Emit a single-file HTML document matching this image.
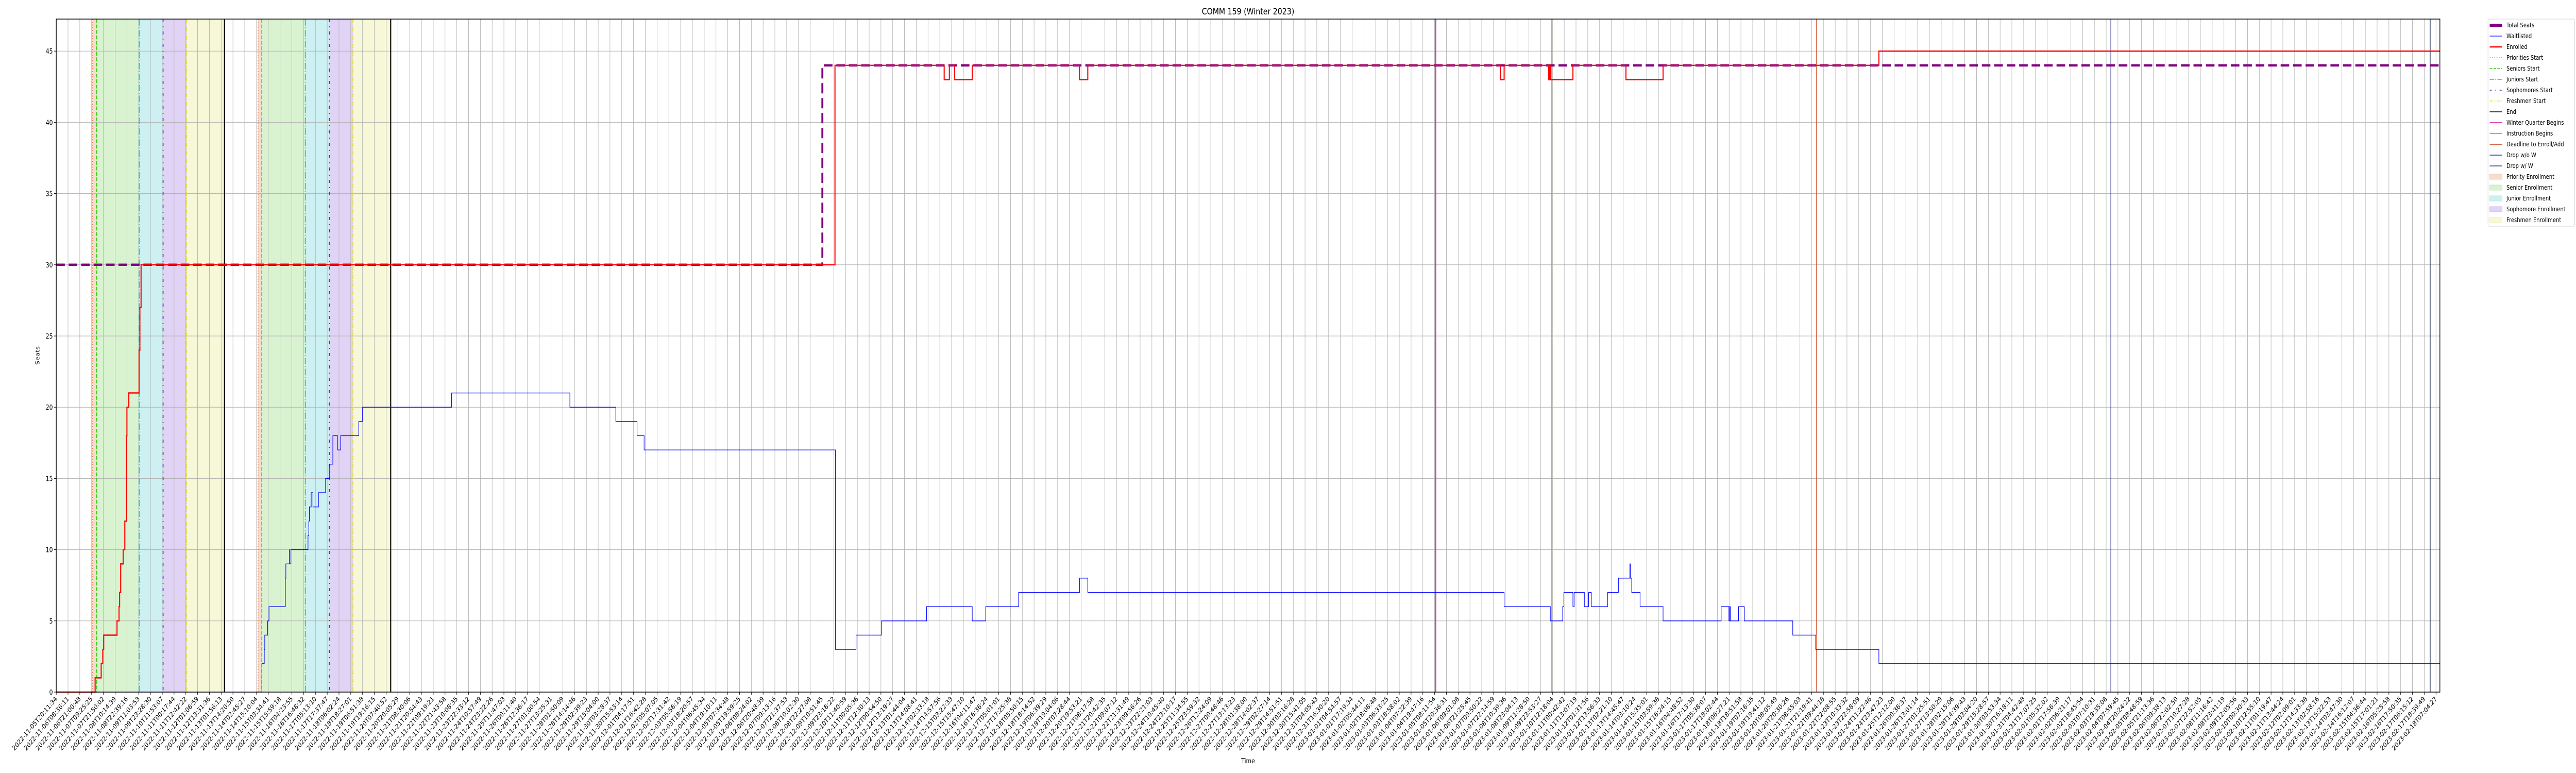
<!DOCTYPE html>
<html><head><meta charset="utf-8"><title>COMM 159 (Winter 2023)</title>
<style>
html,body{margin:0;padding:0;background:#fff;width:100%;height:100%;overflow:hidden;}
svg{display:block;position:absolute;left:0;top:0;width:100vw;height:100vh;font-family:"DejaVu Sans","Liberation Sans",sans-serif;}
</style></head>
<body>
<svg id="chart" viewBox="0 0 6000 1500" preserveAspectRatio="none" xmlns="http://www.w3.org/2000/svg" overflow="hidden"><g id="root"></g></svg>
<script>
// ---- data (x in tick-index units, y in seats) ----
const totalSeatsX = [0, 65.03, 202.33];
const totalSeatsY = [30, 44, 44];
const enrolledX = [0,3.30,3.815,3.95,4.03,5.16,5.33,5.38,5.47,5.68,5.82,5.95,6.0,6.16,7.03,7.1,7.2,66.1,75.37,75.81,76.26,77.75,86.86,87.56,122.58,122.9,126.67,126.75,126.85,128.74,133.24,136.39,154.71,202.33];
const enrolledY = [0,1,2,3,4,5,6,7,9,10,12,18,20,21,24,27,30,44,43,44,43,44,43,44,43,44,43,44,43,44,43,44,45,45];
const waitX = [0,17.46,17.66,17.70,17.94,18.06,19.45,19.49,19.79,19.80,19.92,21.37,21.44,21.49,21.64,21.79,22.26,22.86,23.18,23.48,23.88,24.14,25.68,26.0,33.56,43.6,47.5,49.3,49.9,66.14,67.89,70.05,73.88,77.75,78.9,81.69,86.86,87.56,122.9,126.82,127.87,127.97,128.74,128.84,129.71,130.07,130.3,131.68,132.6,133.57,133.62,133.73,134.44,136.39,141.32,141.98,142.05,142.1,142.8,143.29,147.4,149.35,154.71,202.33];
const waitY = [0,2,3,4,5,6,8,9,10,9,10,11,12,13,14,13,14,15,16,18,17,18,19,20,21,20,19,18,17,3,4,5,6,5,6,7,8,7,6,5,6,7,6,7,6,7,6,7,8,9,8,7,6,5,6,5,6,5,6,5,4,3,2,2];
const prioritiesStart = [3.08, 17.13];
const seniorsStart = [3.43, 17.45];
const juniorsStart = [7.04, 21.14];
const sophomoresStart = [9.07, 23.18];
const freshmenStart = [11.07, 25.18];
const endMarks = [14.28, 28.39];
const winterBegins = [117.1];
const instructionBegins = [126.95];
const deadlineAdd = [149.42];
const dropNoW = [174.4];
const dropW = [201.5];
const yTicks = [0,5,10,15,20,25,30,35,40,45];
const tickCount = 203;
const tickStartLabel = "2022-11-05T20:11:34";
const tickEndLabel = "2023-02-18T07:04:27";

// ---- layout ----
const L = 131, R = 5683, T = 37, B = 1343;
const XMAX = 202.33, YMAX = 47.25;
function xs(v){ return L + v/XMAX*(R-L); }
function ys(v){ return B - v/YMAX*(B-T); }
const NS = "http://www.w3.org/2000/svg";
const svg = document.getElementById('root');
function mk(tag, attrs, parent){
  const e = document.createElementNS(NS, tag);
  for (const k in attrs) e.setAttribute(k, attrs[k]);
  (parent||svg).appendChild(e);
  return e;
}
function pad(n){ return String(n).padStart(2,'0'); }
function fmt(d){ return d.getUTCFullYear()+'-'+pad(d.getUTCMonth()+1)+'-'+pad(d.getUTCDate())+'T'+pad(d.getUTCHours())+':'+pad(d.getUTCMinutes())+':'+pad(d.getUTCSeconds()); }
const t0 = Date.parse(tickStartLabel+'Z'), t1 = Date.parse(tickEndLabel+'Z');
const tickLabels = [];
for (let i=0;i<tickCount;i++) tickLabels.push(fmt(new Date(t0 + (t1-t0)*i/(tickCount-1))));

// spans
const spanDefs = [
  {a:prioritiesStart,b:seniorsStart,fill:'#f6ddd0',name:'priority-enrollment-span'},
  {a:seniorsStart,b:juniorsStart,fill:'#d9f3d1',name:'senior-enrollment-span'},
  {a:juniorsStart,b:sophomoresStart,fill:'#cdf0f2',name:'junior-enrollment-span'},
  {a:sophomoresStart,b:freshmenStart,fill:'#e0d3f5',name:'sophomore-enrollment-span'},
  {a:freshmenStart,b:endMarks,fill:'#f7f8d8',name:'freshmen-enrollment-span'}
];
spanDefs.forEach(s=>{
  s.a.forEach((v,i)=>{
    const r = mk('rect',{x:xs(v),y:T,width:xs(s.b[i])-xs(v),height:B-T,fill:s.fill});
    
    
  });
});

// grid
const grid = mk('g',{stroke:'#b0b0b0','stroke-width':1});


for (let i=0;i<tickCount;i++){ const x=xs(i); mk('line',{x1:x,x2:x,y1:T,y2:B},grid); }
yTicks.forEach(v=>{ const y=ys(v); mk('line',{x1:L,x2:R,y1:y,y2:y},grid); });

// vertical event lines
function vlines(arr, color, width, dash, name){
  arr.forEach(v=>{
    const a = {x1:xs(v),x2:xs(v),y1:T,y2:B,stroke:color,'stroke-width':width};
    if (dash) a['stroke-dasharray']=dash;
    const l = mk('line',a);
    
    
  });
}
vlines(prioritiesStart,'#ee7a3e',2,'2,3.3','priorities-start-line');
vlines(seniorsStart,'#33cc11',2,'7.4,3.2','seniors-start-line');
vlines(juniorsStart,'#00c5d4',2,'12.8,3.2,2,3.2','juniors-start-line');
vlines(sophomoresStart,'#6a1ed1',2,'6,8,2,8','sophomores-start-line');
vlines(freshmenStart,'#e0e030',2,'8,3,2,3','freshmen-start-line');
vlines(endMarks,'#000000',2.5,null,'end-line');
vlines(winterBegins,'#d4149c',2,null,'winter-quarter-begins-line');
vlines(instructionBegins,'#8aa61a',2,null,'instruction-begins-line');
vlines(deadlineAdd,'#cc3a12',1.5,null,'deadline-enroll-add-line');
vlines(dropNoW,'#2b2b8c',1.5,null,'drop-without-w-line');
vlines(dropW,'#2c3e5e',2,null,'drop-with-w-line');

// step series
function stepPath(X,Y){
  let d='M'+xs(X[0])+','+ys(Y[0]);
  for (let i=1;i<X.length;i++){ d+=' H'+xs(X[i])+' V'+ys(Y[i]); }
  return d;
}
const pTotal = mk('path',{d:stepPath(totalSeatsX,totalSeatsY),fill:'none',stroke:'#800080','stroke-width':4.5,'stroke-dasharray':'20,9'});


const pWait = mk('path',{d:stepPath(waitX,waitY),fill:'none',stroke:'#0000ff','stroke-width':1.3});


const pEnr = mk('path',{d:stepPath(enrolledX,enrolledY),fill:'none',stroke:'#ff0000','stroke-width':2.5});



// axes frame
const frame = mk('rect',{x:L,y:T,width:R-L,height:B-T,fill:'none',stroke:'#000','stroke-width':1.5});



// x ticks and labels
const xt = mk('g',{});


for (let i=0;i<tickCount;i++){
  const x=xs(i);
  mk('line',{x1:x,x2:x,y1:B,y2:B+5,stroke:'#000','stroke-width':1},xt);
  const t = mk('text',{x:x+3,y:B+14,'font-size':13,'text-anchor':'end',transform:'rotate(-45 '+(x+3)+' '+(B+14)+')',fill:'#000'},xt);
  t.textContent = tickLabels[i];
  
  
}
// y ticks
const yt = mk('g',{});


yTicks.forEach(v=>{
  const y=ys(v);
  mk('line',{x1:L-5,x2:L,y1:y,y2:y,stroke:'#000','stroke-width':1},yt);
  const t = mk('text',{x:L-8,y:y+5,'font-size':13,'text-anchor':'end',fill:'#000'},yt);
  t.textContent = v;
  
  
});

// titles
const title = mk('text',{x:(L+R)/2,y:28,'font-size':17,'text-anchor':'middle',fill:'#000'});
title.textContent='COMM 159 (Winter 2023)';


const xl = mk('text',{x:(L+R)/2,y:1481,'font-size':13,'text-anchor':'middle',fill:'#000'});
xl.textContent='Time';


const yl = mk('text',{x:0,y:0,'font-size':13,'text-anchor':'middle',fill:'#000',transform:'translate(92 690) rotate(-90)'});
yl.textContent='Seats';



// legend
const legendItems = [
  {label:'Total Seats',type:'line',color:'#800080',w:6},
  {label:'Waitlisted',type:'line',color:'#0000ff',w:1.3},
  {label:'Enrolled',type:'line',color:'#ff0000',w:2.5},
  {label:'Priorities Start',type:'line',color:'#ee7a3e',w:1.5,dash:'2,3.3'},
  {label:'Seniors Start',type:'line',color:'#33cc11',w:1.5,dash:'6,3'},
  {label:'Juniors Start',type:'line',color:'#00c5d4',w:1.5,dash:'10,3,2,3'},
  {label:'Sophomores Start',type:'line',color:'#6a1ed1',w:1.5,dash:'5,8,2,8'},
  {label:'Freshmen Start',type:'line',color:'#e0e030',w:1.5,dash:'8,3,2,3'},
  {label:'End',type:'line',color:'#000000',w:1.5},
  {label:'Winter Quarter Begins',type:'line',color:'#d4149c',w:1.5},
  {label:'Instruction Begins',type:'line',color:'#8aa61a',w:1.5},
  {label:'Deadline to Enroll/Add',type:'line',color:'#cc3a12',w:1.5},
  {label:'Drop w/o W',type:'line',color:'#2b2b8c',w:1.5},
  {label:'Drop w/ W',type:'line',color:'#2c3e5e',w:1.5},
  {label:'Priority Enrollment',type:'patch',color:'#f6ddd0',edge:'#f0c8b5'},
  {label:'Senior Enrollment',type:'patch',color:'#d9f3d1',edge:'#c2ebb5'},
  {label:'Junior Enrollment',type:'patch',color:'#cdf0f2',edge:'#b4e8ec'},
  {label:'Sophomore Enrollment',type:'patch',color:'#e0d3f5',edge:'#cdb8f0'},
  {label:'Freshmen Enrollment',type:'patch',color:'#f7f8d8',edge:'#eef0b8'}
];
const lg = mk('g',{});


mk('rect',{x:5795,y:37,width:202,height:402,rx:3,fill:'#fff',stroke:'#d0d0d0','stroke-width':1},lg);
legendItems.forEach((it,i)=>{
  const cy = 49 + i*21;
  const g = mk('g',{},lg);
  
  
  if (it.type==='line'){
    const a={x1:5799,x2:5828,y1:cy,y2:cy,stroke:it.color,'stroke-width':it.w};
    if (it.dash) a['stroke-dasharray']=it.dash;
    mk('line',a,g);
  } else {
    mk('rect',{x:5799,y:cy-5,width:29,height:10,fill:it.color,stroke:it.edge,'stroke-width':1},g);
  }
  const t = mk('text',{x:5838,y:cy+4,'font-size':12,fill:'#000'},g);
  t.textContent = it.label;
});
</script>
</body></html>
